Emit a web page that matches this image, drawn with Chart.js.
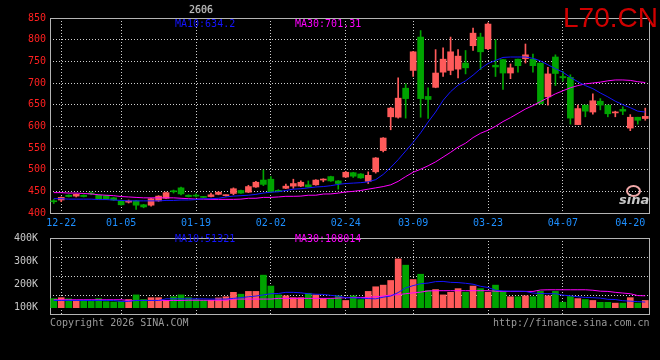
<!DOCTYPE html>
<html>
<head>
<meta charset="utf-8">
<script src="https://cdn.jsdelivr.net/npm/chart.js@4.4.1/dist/chart.umd.min.js"></script>
<style>
  html, body { margin: 0; padding: 0; background: #000; }
  #wrap { position: relative; width: 660px; height: 360px; background: #000; overflow: hidden; }
  canvas { position: absolute; left: 0; }
  .t { position: absolute; font: 10px "DejaVu Sans Mono", monospace; line-height: 10px; white-space: pre; }
  #sym { position: absolute; left: 563px; top: 4px; font: 28px "Liberation Sans", Arial, sans-serif; line-height: 28px; color: #d00000; }
  #logo { position: absolute; left: 619px; top: 193px; font: italic bold 13px "DejaVu Sans", sans-serif; line-height: 13px; color: #c8c8c8; }
  #eye { position: absolute; left: 626px; top: 185px; width: 11px; height: 8px; border: 2px solid #f0a8a8; border-radius: 50%; }
</style>
</head>
<body>
<div id="wrap">
  <canvas id="kline" width="660" height="228" style="top:0"></canvas>
  <canvas id="vol" width="660" height="96" style="top:228px"></canvas>
  <div class="t" style="left:189px;top:5px;color:#bdbdbd;text-shadow:0 0 1px #888">2606</div>
  <div class="t" style="left:175px;top:19px;color:#1414ff">MA10:634.2</div>
  <div class="t" style="left:295px;top:19px;color:#ff00ff">MA30:701.31</div>
  <div class="t" style="left:175px;top:234px;color:#1414ff">MA10:51321</div>
  <div class="t" style="left:295px;top:234px;color:#ff00ff">MA30:108014</div>
  <div class="t" style="left:50px;top:318px;color:#9a9a9a">Copyright 2026 SINA.COM</div>
  <div class="t" style="left:493px;top:318px;color:#9a9a9a">http://finance.sina.com.cn</div>
  <div id="sym">L70.CN</div>
  <div id="eye"></div>
  <div id="logo">sina</div>
</div>
<script>
// trading days shown (80 bars)
const dates = [
  '12-19','12-22','12-23','12-24','12-25','12-26','12-29','12-30','12-31',
  '01-05','01-06','01-07','01-08','01-09','01-12','01-13','01-14','01-15','01-16',
  '01-19','01-20','01-21','01-22','01-23','01-26','01-27','01-28','01-29','01-30',
  '02-02','02-03','02-04','02-05','02-06','02-09','02-10','02-11','02-12','02-13',
  '02-24','02-25','02-26','02-27','03-02','03-03','03-04','03-05','03-06',
  '03-09','03-10','03-11','03-12','03-13','03-16','03-17','03-18','03-19','03-20',
  '03-23','03-24','03-25','03-26','03-27','03-30','03-31','04-01','04-02','04-03',
  '04-07','04-08','04-09','04-10','04-13','04-14','04-15','04-16','04-17',
  '04-20','04-21','04-22'
];
const shownDates = ['12-22','01-05','01-19','02-02','02-24','03-09','03-23','04-07','04-20'];
const gridDates  = ['12-22','01-05','01-19','02-02','02-24','03-09','03-23','04-07'];

const open = [427,430,441,439,441,446,441,440,435,428,
  425,428,419,418,428,434,450,458,441,441,
  437,438,443,440,445,452,448,460,476,478,
  452,457,462,462,465,465,476,484,474,483,
  493,490,473,495,544,622,621,688,729,806,
  669,690,725,729,732,746,786,806,779,741,
  754,723,755,756,755,746,668,760,715,713,
  604,649,633,658,649,631,639,596,621,618];
const close = [426,436,438,443,438,444,433,432,430,419,
  428,418,414,433,439,447,449,444,438,439,
  436,442,448,441,456,446,461,471,466,449,
  450,462,468,471,460,476,478,474,468,494,
  485,481,487,527,573,642,665,664,772,664,
  662,723,755,772,762,735,815,772,836,737,
  723,735,740,765,740,652,721,722,712,619,
  641,635,659,649,629,633,635,621,614,623];
const high = [431,437,442,444,442,449,442,441,436,430,
  430,429,420,434,440,448,453,460,442,444,
  438,446,449,442,458,453,464,473,499,484,
  454,467,478,474,474,477,479,485,475,496,
  494,491,495,528,574,644,712,698,773,821,
  689,777,781,806,777,775,827,815,839,800,
  754,744,755,790,767,746,736,765,727,719,
  649,649,675,664,649,635,645,627,621,642];
const low = [422,426,437,437,437,442,432,431,429,418,
  423,408,412,416,427,433,446,442,437,437,
  435,437,442,439,442,445,447,459,463,447,
  449,456,457,461,459,464,472,473,455,482,
  482,480,468,492,541,592,619,619,715,621,
  618,689,715,719,712,721,775,731,777,715,
  685,710,725,746,725,652,649,694,704,605,
  604,622,628,638,622,622,627,590,605,614];

const ma10 = [433,433,432,432,432,432,431,431,430,429,
  428,428,428,428,428,429,429,430,430,431,
  433,433,434,437,439,440,441,443,446,448,
  449,452,455,456,458,460,461,463,466,468,
  469,470,472,477,489,505,523,543,563,585,
  610,633,660,680,695,705,718,733,745,752,
  759,760,760,760,757,751,742,733,725,713,
  703,694,687,677,668,658,650,643,635,633];
const ma30 = [447,447,446,446,445,444,442,441,440,438,
  437,436,435,435,435,435,435,434,433,432,
  432,431.5,431.5,431.5,431.5,432,434,434,436,436,
  437,438.5,438.5,439,441,441,443.8,444,446,448.5,
  450,452,455,458,461,465,473,484,494,501,
  509,518,529,540,552,561,574,584,591,600,
  611,620,630,640,648,657,666,675,682,689,
  694,698,700,702,705,707,707,706,703,701];

const volume = [139000,143000,138000,130000,132000,127000,139000,126000,124500,127000,
  135000,155000,135000,143000,143000,130000,147000,155000,143000,135000,
  132000,132000,142000,147000,166000,158000,170000,170000,240000,193000,
  155000,151000,143000,143000,162000,155000,139000,139000,151000,131000,
  151000,135000,170000,190000,197000,217000,310000,283000,221000,244000,
  174000,178000,155000,166000,182000,166000,193000,182000,166000,197000,
  170000,147000,147000,151000,147000,170000,151000,170000,123400,148000,
  139000,135000,131000,123000,123000,119500,119500,143000,119500,131000];
const volMa10 = [131000,131000,131000,131000,131000,131000,131000,131000,131000,127000,
  127000,131000,131000,131000,131000,138000,138000,138000,138000,138000,
  138000,137000,137000,137000,140000,143000,147000,150000,155000,160000,
  161000,166000,166000,164000,160000,158000,157000,153000,150000,143000,
  142000,141000,139000,138000,145000,150000,165000,185000,195000,203000,
  206000,212000,213000,209000,208000,205000,201000,192000,187000,175000,
  172000,171000,171000,170000,163000,161000,160000,160000,154000,151000,
  147000,144000,143000,141000,136000,135000,130000,128000,126000,124000];
const volMa30 = [134000,134000,134000,134000,134000,134000,134000,134000,134000,134000,
  131000,131000,131000,131000,131000,131000,131000,131000,132000,132000,
  132000,132000,132000,132000,137000,137000,137000,137000,137000,137000,
  140000,140000,140000,140000,140000,140000,140000,140000,141000,143000,
  144000,144000,144000,147000,150000,154000,156000,160000,164000,167000,
  172000,173000,173000,173000,173000,173000,173000,173000,173000,171000,
  170000,170000,170000,170000,170000,176000,177000,177000,177000,177000,
  177000,177000,175000,171000,170000,166000,163000,160000,152000,151000];
const volTicks = [100000, 200000, 300000, 400000];

const RED = '#ff5a5a', GREEN = '#00a400', BLUE = '#1414ff', MAG = '#ff00ff';
const GRID = '#cfcfcf', FRAME = '#b4b4b4';
const monoFont = { family: 'DejaVu Sans Mono', size: 10 };

const candleColor = ctx => close[ctx.dataIndex] >= open[ctx.dataIndex] ? RED : GREEN;
const vGrid = ctx => gridDates.includes(dates[ctx.index]) ? GRID : 'rgba(0,0,0,0)';

// frame round each panel
const frame = {
  id: 'frame',
  beforeDatasetsDraw(chart) {
    const { ctx, chartArea: a } = chart;
    ctx.save();
    ctx.strokeStyle = FRAME;
    ctx.lineWidth = 1;
    ctx.strokeRect(Math.round(a.left) + 0.5, Math.round(a.top) + 0.5,
      Math.round(a.right - a.left), Math.round(a.bottom - a.top));
    ctx.restore();
  }
};

const line = (data, color) => ({
  type: 'line', data, borderColor: color, borderWidth: 1,
  pointRadius: 0, tension: 0, order: 0
});

new Chart(document.getElementById('kline'), {
  type: 'bar',
  data: {
    labels: dates,
    datasets: [
      line(ma10, BLUE),
      line(ma30, MAG),
      { data: dates.map((d, i) => [open[i], close[i]]), backgroundColor: candleColor,
        barThickness: 6, minBarLength: 1, grouped: false, order: 1 },
      { data: dates.map((d, i) => [low[i], high[i]]), backgroundColor: candleColor,
        barThickness: 1, grouped: false, order: 2 }
    ]
  },
  options: {
    responsive: false, animation: false,
    layout: { padding: { top: 18, right: 11, left: 0, bottom: 0 } },
    plugins: { legend: { display: false }, tooltip: { enabled: false } },
    scales: {
      x: {
        offset: true,
        grid: { offset: false, drawTicks: false, color: vGrid },
        border: { display: false, dash: [1, 2] },
        ticks: { autoSkip: false, maxRotation: 0, padding: 4, color: '#1e8fff', font: monoFont,
          callback: (v, i) => shownDates.includes(dates[i]) ? dates[i] : '' },
        afterFit: s => { s.height = 15; }
      },
      y: {
        min: 400, max: 850,
        ticks: { stepSize: 50, color: '#ff2020', padding: 4, font: monoFont },
        grid: { drawTicks: false, color: GRID },
        border: { display: false, dash: [1, 2] },
        afterFit: s => { s.width = 50; }
      }
    }
  },
  plugins: [frame]
});

new Chart(document.getElementById('vol'), {
  type: 'bar',
  data: {
    labels: dates,
    datasets: [
      line(volMa10, BLUE),
      line(volMa30, MAG),
      { data: volume, base: 100000, backgroundColor: candleColor, barThickness: 6, order: 1 }
    ]
  },
  options: {
    responsive: false, animation: false,
    layout: { padding: { top: 6, right: 11, left: 0, bottom: 0 } },
    plugins: { legend: { display: false }, tooltip: { enabled: false } },
    scales: {
      x: {
        offset: true,
        grid: { offset: false, drawTicks: false, color: vGrid },
        border: { display: false, dash: [1, 2] },
        ticks: { display: false },
        afterFit: s => { s.height = 6; }
      },
      y: {
        min: 72700, max: 400000,
        afterBuildTicks: s => { s.ticks = volTicks.map(v => ({ value: v })); },
        ticks: { color: '#c8c8c8', padding: 4, font: monoFont, callback: v => (v / 1000) + 'K' },
        grid: { display: false },
        border: { display: false },
        afterFit: s => { s.width = 50; }
      },
      yg: {
        position: 'right', min: 0, max: 4,
        ticks: { display: false, stepSize: 1 },
        grid: { drawTicks: false, color: GRID },
        border: { display: false, dash: [1, 2] },
        afterFit: s => { s.width = 0; }
      }
    }
  },
  plugins: [frame]
});
</script>
</body>
</html>
